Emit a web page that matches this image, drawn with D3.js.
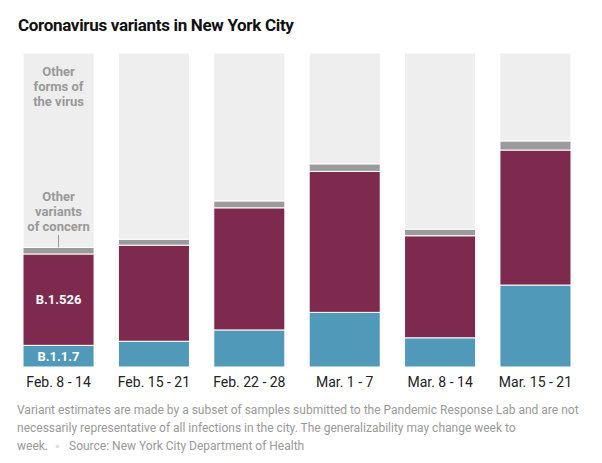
<!DOCTYPE html>
<html>
<head>
<meta charset="utf-8">
<script src="https://cdn.jsdelivr.net/npm/d3@7"></script>
<style>
  body { margin: 0; background: #fff; }
  text { font-family: Roboto, "Liberation Sans", sans-serif; }
</style>
</head>
<body>
<div id="chart"></div>
<script>
var width = 602;
var height = 463;
var margin = {top: 53, left: 23, right: 31, bottom: 96};

// weeks and share of sampled cases (percent)
var weeks = ["Feb. 8 - 14", "Feb. 15 - 21", "Feb. 22 - 28", "Mar. 1 - 7", "Mar. 8 - 14", "Mar. 15 - 21"];
var b117 = [6.9, 8.2, 11.8, 17.4, 9.3, 26.1];
var b1526 = [29.1, 30.6, 38.9, 44.9, 32.5, 43.0];
var otherConcern = [2.1, 1.9, 2.2, 2.4, 2.1, 2.9];
var otherForms = weeks.map(function(w, i) { return 100 - b117[i] - b1526[i] - otherConcern[i]; });

var keys = ["b117", "b1526", "otherConcern", "otherForms"];
var colors = {b117: "#5099b8", b1526: "#7d2a4e", otherConcern: "#9b9b9b", otherForms: "#eeeeee"};

var data = weeks.map(function(w, i) {
  return {week: w, b117: b117[i], b1526: b1526[i], otherConcern: otherConcern[i], otherForms: otherForms[i]};
});

var svg = d3.select("#chart")
  .append("svg")
  .attr("width", width)
  .attr("height", height);

svg.append("text")
  .attr("x", 18)
  .attr("y", 31)
  .attr("font-size", 17)
  .attr("font-weight", 700)
  .attr("fill", "#111")
  .attr("letter-spacing", "-0.32")
  .text("Coronavirus variants in New York City");

var xScale = d3.scaleBand()
  .domain(weeks)
  .range([margin.left, width - margin.right])
  .paddingInner(0.255)
  .paddingOuter(0);

var yScale = d3.scaleLinear()
  .domain([0, 100])
  .range([height - margin.bottom, margin.top]);

var stacked = d3.stack().keys(keys)(data);

svg.append("g")
  .selectAll("g")
  .data(stacked)
  .enter()
  .append("g")
    .attr("fill", function(d) { return colors[d.key]; })
  .selectAll("rect")
  .data(function(d) { return d; })
  .enter()
  .append("rect")
    .attr("x", function(d) { return xScale(d.data.week); })
    .attr("y", function(d) { return yScale(d[1]); })
    .attr("width", xScale.bandwidth())
    .attr("height", function(d) { return yScale(d[0]) - yScale(d[1]); })
    .attr("stroke", "#fff")
    .attr("stroke-width", 1);

// x axis labels
var xAxis = svg.append("g")
  .attr("transform", `translate(0,${height - margin.bottom})`)
  .call(d3.axisBottom(xScale).tickSize(0).tickPadding(10));
xAxis.select(".domain").remove();
xAxis.selectAll("text")
  .attr("font-size", 14)
  .attr("fill", "#222")
  .style("font-family", "Roboto, sans-serif");

// labels in first bar
var first = data[0];
var cx = xScale(first.week) + xScale.bandwidth() / 2;

svg.append("text")
  .attr("x", cx)
  .attr("y", yScale(first.b117 / 2) + 5)
  .attr("text-anchor", "middle")
  .attr("font-size", 13)
  .attr("font-weight", 700)
  .attr("fill", "#fff")
  .text("B.1.1.7");

svg.append("text")
  .attr("x", cx)
  .attr("y", yScale(first.b117 + first.b1526 / 2) + 4)
  .attr("text-anchor", "middle")
  .attr("font-size", 13)
  .attr("font-weight", 700)
  .attr("fill", "#fff")
  .text("B.1.526");

var greyLabel = function(lines, y0) {
  svg.append("text")
    .attr("x", cx)
    .attr("y", y0)
    .attr("text-anchor", "middle")
    .attr("font-size", 13)
    .attr("font-weight", 700)
    .attr("fill", "#999")
    .selectAll("tspan")
    .data(lines)
    .enter()
    .append("tspan")
      .attr("x", cx)
      .attr("dy", function(d, i) { return i ? 15 : 0; })
      .text(function(d) { return d; });
};
greyLabel(["Other", "forms of", "the virus"], 76);
greyLabel(["Other", "variants", "of concern"], 201);

svg.append("line")
  .attr("x1", cx).attr("x2", cx)
  .attr("y1", 235)
  .attr("y2", yScale(100 - first.otherForms))
  .attr("stroke", "#999")
  .attr("stroke-width", 1);

// footnote
var note = svg.append("text")
  .attr("x", 17)
  .attr("y", 414)
  .attr("font-size", 12)
  .attr("fill", "#999");
note.append("tspan").attr("x", 17).attr("dy", 0)
  .text("Variant estimates are made by a subset of samples submitted to the Pandemic Response Lab and are not");
note.append("tspan").attr("x", 17).attr("dy", 18)
  .text("necessarily representative of all infections in the city. The generalizability may change week to");
note.append("tspan").attr("x", 17).attr("dy", 18)
  .text("week.");
note.append("tspan").attr("x", 55).attr("fill", "#ddd").text("\u25AA");
note.append("tspan").attr("x", 69).text("Source: New York City Department of Health");
</script>
</body>
</html>
